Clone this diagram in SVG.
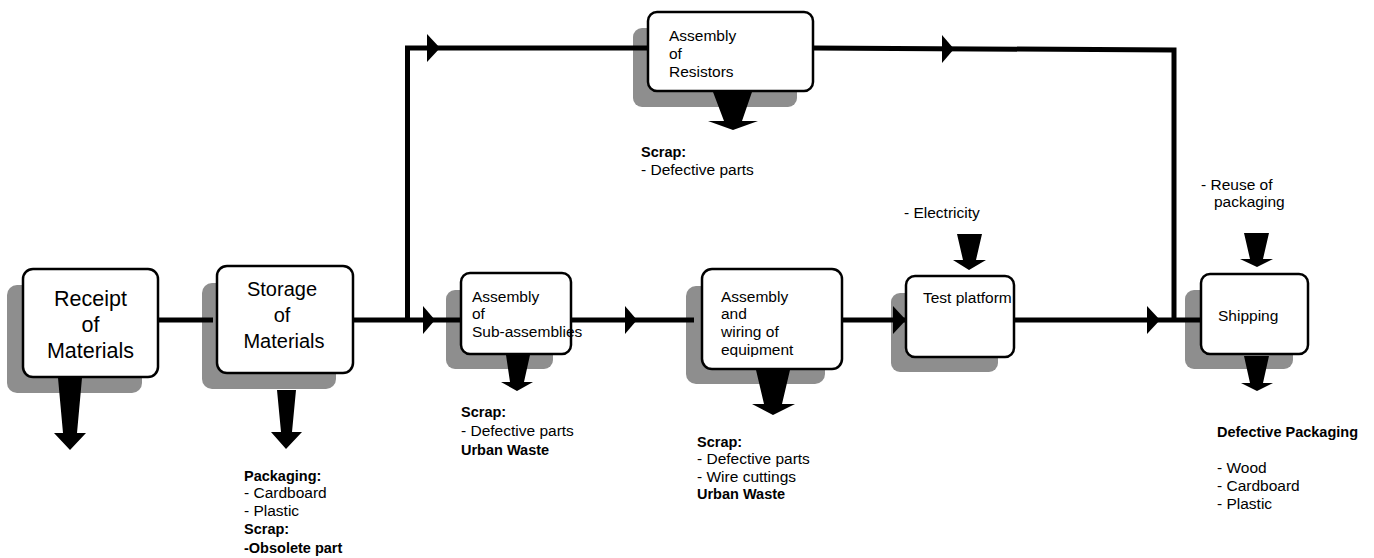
<svg xmlns="http://www.w3.org/2000/svg" width="1374" height="558" viewBox="0 0 1374 558">
  <style>
    .shadow { fill: #8e8e8e; }
    .box { fill: #ffffff; stroke: #000000; stroke-width: 2.5; }
    .big { font-family: "Liberation Sans", Arial, sans-serif; text-anchor: middle; fill: #000; }
    .lbl { font-family: "Liberation Sans", Arial, sans-serif; font-size: 15.5px; fill: #000; }
    .note { font-family: "Liberation Sans", Arial, sans-serif; font-size: 15.5px; fill: #000; }
    .note-b { font-family: "Liberation Sans", Arial, sans-serif; font-size: 14.5px; font-weight: bold; fill: #000; }
    .line { fill: none; stroke: #000; stroke-width: 5; stroke-linejoin: miter; }
    .head { fill: #000; }
    .flow { fill: #000; }
  </style>
  <defs>
    <clipPath id="wiring-clip">
      <rect x="702" y="269" width="140" height="88"/>
    </clipPath>
  </defs>

  <rect width="1374" height="558" fill="#ffffff"/>

  <!-- process steps -->
  <g id="receipt">
    <rect class="shadow" x="7" y="285" width="135" height="108" rx="10"/>
    <rect class="box" x="23" y="269" width="135" height="108" rx="10"/>
    <text class="big" font-size="21.5" x="90.5" y="306">Receipt</text>
    <text class="big" font-size="21.5" x="90.5" y="332">of</text>
    <text class="big" font-size="21.5" x="90.5" y="358">Materials</text>
  </g>

  <g id="storage">
    <rect class="shadow" x="202" y="283" width="134" height="106" rx="10"/>
    <rect class="box" x="217" y="266" width="136" height="107" rx="10"/>
    <text class="big" font-size="20" x="282" y="296">Storage</text>
    <text class="big" font-size="20" x="282" y="322">of</text>
    <text class="big" font-size="20" x="284" y="348">Materials</text>
  </g>

  <g id="resistors">
    <rect class="shadow" x="633" y="28" width="164" height="79" rx="9"/>
    <rect class="box" x="648" y="12" width="165" height="79" rx="9"/>
    <text class="lbl" x="669" y="41">Assembly</text>
    <text class="lbl" x="669" y="59">of</text>
    <text class="lbl" x="669" y="77">Resistors</text>
  </g>

  <g id="subassemblies">
    <rect class="shadow" x="446" y="290" width="107" height="79" rx="9"/>
    <rect class="box" x="461" y="273" width="110" height="81" rx="9"/>
    <text class="lbl" x="472" y="302">Assembly</text>
    <text class="lbl" x="472" y="319">of</text>
    <text class="lbl" x="472" y="337">Sub-assemblies</text>
  </g>

  <g id="wiring">
    <rect class="shadow" x="686" y="286" width="139" height="98" rx="10"/>
    <rect class="box" x="702" y="269" width="140" height="100" rx="10"/>
    <g clip-path="url(#wiring-clip)">
      <text class="lbl" x="721" y="302">Assembly</text>
      <text class="lbl" x="721" y="319">and</text>
      <text class="lbl" x="721" y="337">wiring of</text>
      <text class="lbl" x="721" y="355">equipment</text>
    </g>
  </g>

  <g id="test-platform">
    <rect class="shadow" x="891" y="293" width="107" height="79" rx="9"/>
    <rect class="box" x="906" y="276" width="108" height="81" rx="9"/>
    <text class="lbl" x="923" y="303">Test platform</text>
  </g>

  <g id="shipping">
    <rect class="shadow" x="1185" y="290" width="108" height="79" rx="9"/>
    <rect class="box" x="1201" y="274" width="107" height="80" rx="9"/>
    <text class="lbl" x="1218" y="321">Shipping</text>
  </g>

  <!-- flow lines with arrowheads -->
  <g id="connectors">
    <line class="line" x1="158" y1="320" x2="213" y2="320"/>
    <line class="line" x1="353" y1="320" x2="461" y2="320"/>
    <polyline class="line" points="407.5,320 407.5,48 648,48"/>
    <polyline class="line" points="813,48 1174,50 1174,320"/>
    <line class="line" x1="571" y1="320" x2="694" y2="320"/>
    <line class="line" x1="842" y1="320" x2="906" y2="320"/>
    <line class="line" x1="1014" y1="320" x2="1201" y2="320"/>

    <polygon class="head" points="423,306 435,320 423,334"/>
    <polygon class="head" points="427,34 440,48 427,62"/>
    <polygon class="head" points="942,35 954,49 942,63"/>
    <polygon class="head" points="625,306 637,320 625,334"/>
    <polygon class="head" points="893,306 906,320 893,334"/>
    <polygon class="head" points="1147,306 1160,320 1147,334"/>

    <!-- outputs and inputs -->
    <polygon class="flow" points="58,378 82,378 77,433 86,433 70,450 54,433 63,433"/>
    <polygon class="flow" points="277,390 296,390 292,432 302,432 286,449 271,432 281,432"/>
    <polygon class="flow" points="713,92 752,92 742,121 758,121 733,130 708,121 724,121"/>
    <polygon class="flow" points="506,355 530,355 524,382 533,382 517,391 501,382 510,382"/>
    <polygon class="flow" points="756,370 790,370 782,404 795,404 773,415 752,404 764,404"/>
    <polygon class="flow" points="957,234 982,234 976,260 986,260 969,270 953,260 963,260"/>
    <polygon class="flow" points="1244,233 1269,233 1263,259 1273,259 1257,267 1240,259 1250,259"/>
    <polygon class="flow" points="1244,356 1269,356 1263,383 1273,383 1257,391 1241,383 1250,383"/>
  </g>

  <!-- annotations -->
  <g id="notes-storage">
    <text class="note-b" x="244" y="481">Packaging:</text>
    <text class="note" x="244" y="498">- Cardboard</text>
    <text class="note" x="244" y="516">- Plastic</text>
    <text class="note-b" x="244" y="534">Scrap:</text>
    <text class="note-b" x="244" y="553">-Obsolete part</text>
  </g>
  <g id="notes-resistors">
    <text class="note-b" x="641" y="157">Scrap:</text>
    <text class="note" x="641" y="175">- Defective parts</text>
  </g>
  <g id="notes-subassemblies">
    <text class="note-b" x="461" y="417">Scrap:</text>
    <text class="note" x="461" y="436">- Defective parts</text>
    <text class="note-b" x="461" y="455">Urban Waste</text>
  </g>
  <g id="notes-wiring">
    <text class="note-b" x="697" y="447">Scrap:</text>
    <text class="note" x="697" y="464">- Defective parts</text>
    <text class="note" x="697" y="482">- Wire cuttings</text>
    <text class="note-b" x="697" y="499">Urban Waste</text>
  </g>
  <g id="notes-test">
    <text class="note" x="904" y="218">- Electricity</text>
  </g>
  <g id="notes-shipping">
    <text class="note" x="1201" y="190">- Reuse of</text>
    <text class="note" x="1214" y="207">packaging</text>
    <text class="note-b" x="1217" y="437">Defective Packaging</text>
    <text class="note" x="1217" y="473">- Wood</text>
    <text class="note" x="1217" y="491">- Cardboard</text>
    <text class="note" x="1217" y="509">- Plastic</text>
  </g>
</svg>
